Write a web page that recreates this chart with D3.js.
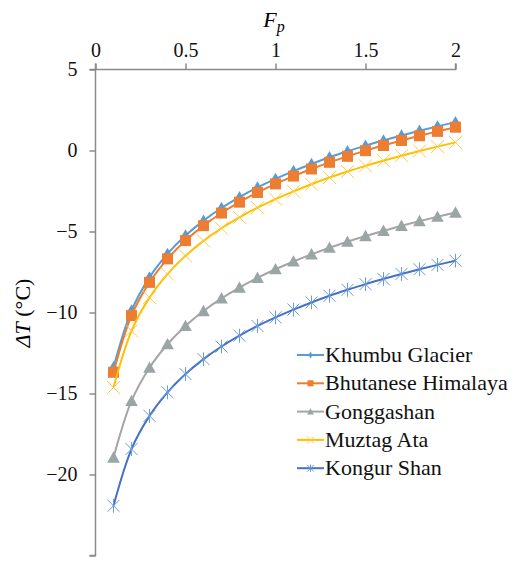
<!DOCTYPE html>
<html>
<head>
<meta charset="utf-8">
<script src="https://cdn.jsdelivr.net/npm/d3@7"></script>
<style>
  body { margin: 0; background: #fff; }
</style>
</head>
<body>
<div id="chart"></div>
<script>
// values
var fp = [0.1, 0.2, 0.3, 0.4, 0.5, 0.6, 0.7, 0.8, 0.9, 1.0,
          1.1, 1.2, 1.3, 1.4, 1.5, 1.6, 1.7, 1.8, 1.9, 2.0];
var khumbu = [-13.38, -9.88, -7.83, -6.38, -5.25, -4.33, -3.55, -2.88, -2.28, -1.75,
              -1.27, -0.83, -0.42, -0.05, 0.30, 0.62, 0.93, 1.22, 1.49, 1.75];
var bhutan = [-13.69, -10.19, -8.14, -6.69, -5.56, -4.64, -3.86, -3.19, -2.59, -2.06,
              -1.58, -1.14, -0.73, -0.36, -0.01, 0.31, 0.62, 0.91, 1.18, 1.44];
var gongga = [-18.96, -15.46, -13.41, -11.96, -10.83, -9.91, -9.13, -8.46, -7.86, -7.33,
              -6.85, -6.41, -6.00, -5.63, -5.28, -4.96, -4.65, -4.36, -4.09, -3.83];
var muztag = [-14.63, -11.13, -9.08, -7.63, -6.50, -5.58, -4.80, -4.13, -3.53, -3.00,
              -2.52, -2.08, -1.67, -1.30, -0.95, -0.63, -0.32, -0.03, 0.24, 0.50];
var kongur = [-21.93, -18.43, -16.38, -14.93, -13.80, -12.88, -12.10, -11.43, -10.83, -10.30,
              -9.82, -9.38, -8.97, -8.60, -8.25, -7.93, -7.62, -7.33, -7.06, -6.80];
var seriesNames = ["Khumbu Glacier", "Bhutanese Himalaya", "Gonggashan", "Muztag Ata", "Kongur Shan"];
var xTicks = [0, 0.5, 1, 1.5, 2];
var yTicks = [5, 0, -5, -10, -15, -20, -25];

var W = 525, H = 565;
var FONT = "Liberation Serif";
var series = [
    {name: seriesNames[0], values: khumbu, line: "#5B9BD5", mark: "#5B9BD5", shape: "diamond"},
    {name: seriesNames[1], values: bhutan, line: "#ED7D31", mark: "#ED7D31", shape: "square"},
    {name: seriesNames[2], values: gongga, line: "#A5A5A5", mark: "#9AA6A5", shape: "triangle"},
    {name: seriesNames[3], values: muztag, line: "#FFC000", mark: "#FFC94A", shape: "cross"},
    {name: seriesNames[4], values: kongur, line: "#4472C4", mark: "#6A9AE0", shape: "star"}
];

var svg = d3.select("#chart").append("svg").attr("width", W).attr("height", H)
    .attr("font-family", FONT);

var x = d3.scaleLinear().domain([0, 2]).range([95.5, 455.5]);
var y = d3.scaleLinear().domain([-25, 5]).range([555.5, 69.5]);

// axes
var axisColor = "#8a8a8a";
var xAxis = svg.append("g").attr("transform", "translate(0," + y(5) + ")")
    .call(d3.axisTop(x).tickValues(xTicks).tickSize(6).tickPadding(7)
        .tickFormat(function(d){ return d3.format("")(d); }));
var yAxis = svg.append("g").attr("transform", "translate(" + x(0) + ",0)")
    .call(d3.axisLeft(y).tickValues(yTicks).tickSize(6).tickPadding(12)
        .tickFormat(function(d){ return d === -25 ? "" : (d < 0 ? "\u2212" + Math.abs(d) : d); }));
[xAxis, yAxis].forEach(function(a){
    a.attr("font-family", FONT).attr("font-size", 20);
    a.select(".domain").attr("stroke", axisColor).attr("stroke-width", 1.5);
    a.selectAll("line").attr("stroke", axisColor).attr("stroke-width", 1.5);
    a.selectAll("text").attr("fill", "#111");
});
xAxis.select(".domain").attr("d", "M" + x(0) + ",-6V0H" + x(2) + "V-6");
yAxis.select(".domain").attr("d", "M-6," + y(5) + "H0V" + y(-25) + "H-6");

// axis titles
var xt = svg.append("text").attr("x", 274).attr("y", 27).attr("text-anchor", "middle")
    .attr("font-size", 22).attr("font-family", FONT);
xt.append("tspan").attr("font-style", "italic").text("F");
xt.append("tspan").attr("font-style", "italic").attr("font-size", 16).attr("dy", 5).text("p");

var yt = svg.append("text").attr("transform", "translate(30,313) rotate(-90)")
    .attr("text-anchor", "middle").attr("font-size", 22).attr("font-family", FONT);
yt.append("tspan").attr("font-style", "italic").text("\u0394T");
yt.append("tspan").text(" (\u00B0C)");

// lines
var line = d3.line()
    .x(function(d){ return x(d[0]); })
    .y(function(d){ return y(d[1]); })
    .curve(d3.curveCatmullRom.alpha(0.5));

function markerPath(shape, s) {
    var h = s / 2;
    if (shape === "diamond") return d3.symbol(d3.symbolDiamond, s * s * 0.55)();
    if (shape === "square") return "M" + (-h) + "," + (-h) + "h" + s + "v" + s + "h" + (-s) + "Z";
    if (shape === "triangle") return "M0," + (-h * 1.05) + "L" + (h * 1.05) + "," + (h * 0.85) + "L" + (-h * 1.05) + "," + (h * 0.85) + "Z";
    if (shape === "cross") return "M" + (-h) + "," + (-h) + "L" + h + "," + h + "M" + (-h) + "," + h + "L" + h + "," + (-h);
    return "M" + (-h) + "," + (-h) + "L" + h + "," + h + "M" + (-h) + "," + h + "L" + h + "," + (-h) +
        "M0," + (-h * 1.15) + "V" + (h * 1.15);
}
var markSize = {diamond: 9, square: 11, triangle: 12, cross: 13, star: 12};

function drawMarks(g, s, pts, sizeScale) {
    var filled = (s.shape === "diamond" || s.shape === "square" || s.shape === "triangle");
    g.selectAll("path.m").data(pts).enter().append("path").attr("class", "m")
        .attr("transform", function(d){ return "translate(" + d[0] + "," + d[1] + ")"; })
        .attr("d", markerPath(s.shape, markSize[s.shape] * sizeScale))
        .attr("fill", filled ? s.mark : "none")
        .attr("stroke", filled ? "none" : s.mark)
        .attr("stroke-width", 1);
}

series.forEach(function(s){
    var data = fp.map(function(f, i){ return [f, s.values[i]]; });
    var g = svg.append("g");
    g.append("path").datum(data).attr("d", line)
        .attr("fill", "none").attr("stroke", s.line).attr("stroke-width", 2);
    drawMarks(g, s, data.map(function(d){ return [x(d[0]), y(d[1])]; }), 1);
});

// legend
var lg = svg.append("g").attr("transform", "translate(297,355)");
series.forEach(function(s, i){
    var row = lg.append("g").attr("transform", "translate(0," + (i * 28.3) + ")");
    row.append("rect").attr("x", -2).attr("y", -14).attr("width", 190).attr("height", 28).attr("fill", "#fff");
    row.append("line").attr("x1", 0).attr("x2", 27).attr("y1", 0).attr("y2", 0)
        .attr("stroke", s.line).attr("stroke-width", 2);
    drawMarks(row, s, [[13.5, 0]], 0.55);
    row.append("text").attr("x", 28).attr("y", 7).attr("font-size", 22)
        .attr("font-family", FONT).attr("fill", "#111").text(s.name);
});
</script>
</body>
</html>
